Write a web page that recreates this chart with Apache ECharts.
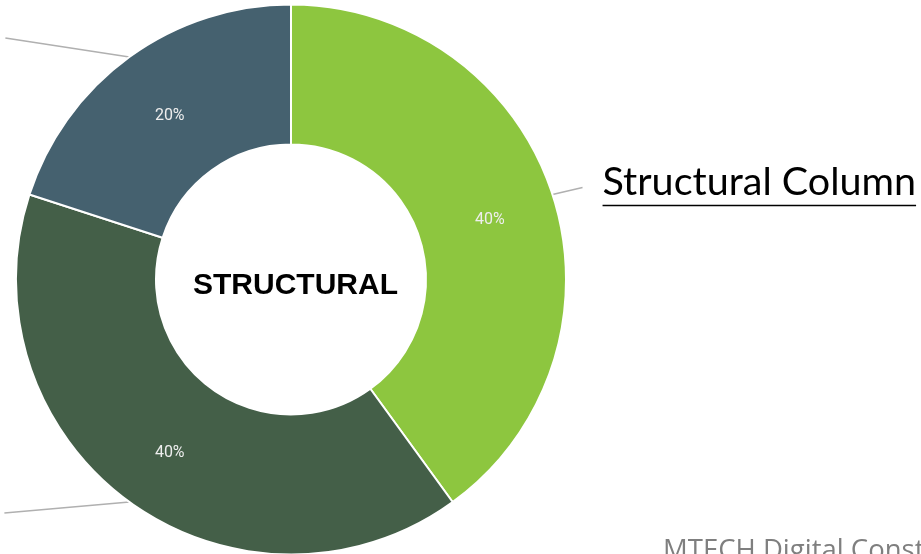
<!DOCTYPE html>
<html>
<head>
<meta charset="utf-8">
<script src="https://cdn.jsdelivr.net/npm/echarts@6/dist/echarts.min.js"></script>
<style>
  html, body { margin: 0; padding: 0; background: #ffffff; }
  #chart { width: 921px; height: 554px; }
</style>
</head>
<body>
<div id="chart"></div>
<script>
// Share of structural elements
const categories = ['Structural Column', 'Structural Beam', 'Structural Wall'];
const shares = [40, 40, 20];
const sliceColors = ['#8dc63f', '#445f48', '#45616f'];
const centerTitle = 'STRUCTURAL';
const footerText = 'MTECH Digital Construction';

// Leader line offsets (from the slice edge) for each category
const leaderOffsets = [[30, -7], [-125, 11], [-124, -19]];

const chart = echarts.init(document.getElementById('chart'), null, { renderer: 'canvas' });

const CENTER = [291, 279.5];
const RADIUS = [135, 275];

const pieData = categories.map((name, i) => ({
  name: name,
  value: shares[i],
  itemStyle: { color: sliceColors[i] }
}));

chart.setOption({
  backgroundColor: '#ffffff',
  animation: false,
  graphic: [
    {
      type: 'text',
      left: 193,
      top: 271,
      style: {
        text: centerTitle,
        font: 'bold 30px "Liberation Sans", Arial, sans-serif',
        fill: '#000000'
      }
    },
    {
      type: 'text',
      left: 663,
      top: 537,
      style: {
        text: footerText,
        font: '27.5px "Open Sans", sans-serif',
        fill: '#7f7f7f'
      }
    }
  ],
  series: [
    {
      // coloured ring with percentage labels
      type: 'pie',
      center: CENTER,
      radius: RADIUS,
      startAngle: 90,
      clockwise: true,
      silent: true,
      itemStyle: { borderColor: '#ffffff', borderWidth: 2 },
      label: {
        show: true,
        position: 'inside',
        formatter: '{d}%',
        color: '#eeeeee',
        fontFamily: 'Roboto, sans-serif',
        fontSize: 16,
        offset: [1, 5]
      },
      labelLine: { show: false },
      data: pieData
    },
    {
      // transparent overlay carrying the category labels and leader lines
      type: 'pie',
      center: CENTER,
      radius: RADIUS,
      startAngle: 90,
      clockwise: true,
      silent: true,
      itemStyle: { color: 'rgba(0,0,0,0)', borderWidth: 0 },
      label: {
        show: true,
        position: 'outside',
        formatter: '{t|{b}}\n{u|}',
        rich: {
          t: {
            fontFamily: 'Lato, sans-serif',
            fontSize: 39.5,
            color: '#000000',
            lineHeight: 44
          },
          u: {
            width: '100%',
            height: 1.5,
            backgroundColor: '#000000',
            lineHeight: 2
          }
        }
      },
      labelLine: {
        show: true,
        length: 10,
        length2: 10,
        lineStyle: { color: '#b0b0b0', width: 1.5 }
      },
      labelLayout: function (params) {
        const start = params.labelLinePoints[0];
        const off = leaderOffsets[params.dataIndex];
        const end = [start[0] + off[0], start[1] + off[1]];
        const right = off[0] > 0;
        return {
          x: right ? end[0] + 20 : end[0] - 20,
          y: end[1] - 4,
          align: right ? 'left' : 'right',
          verticalAlign: 'middle',
          labelLinePoints: [start, end],
          hideOverlap: false
        };
      },
      data: pieData.map(d => ({ name: d.name, value: d.value }))
    }
  ]
});
</script>
</body>
</html>
